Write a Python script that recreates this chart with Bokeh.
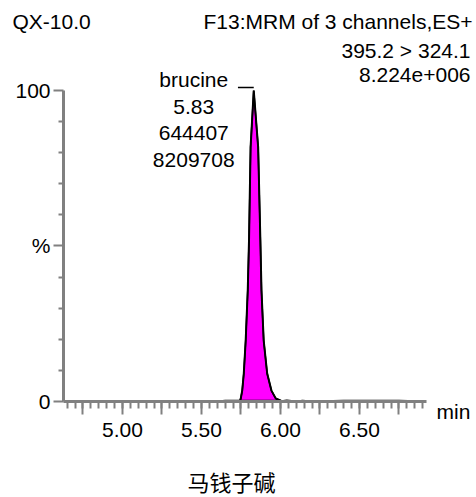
from bokeh.plotting import figure
from bokeh.models import Range1d, FixedTicker, Label, NumeralTickFormatter
from bokeh.embed import file_html
from bokeh.resources import INLINE

# ---- data ----
time_min = [4.65, 4.80, 5.00, 5.20, 5.40, 5.60, 5.65, 5.70, 5.745,
            5.749, 5.758, 5.768, 5.780, 5.793, 5.801, 5.811, 5.831,
            5.859, 5.873, 5.880, 5.894, 5.916, 5.943, 5.970, 6.006,
            6.04, 6.10, 6.14, 6.20, 6.40, 6.60, 6.75, 6.92]
intensity_pct = [0.1, 0.1, 0.1, 0.1, 0.1, 0.1, 0.3, 0.3, 0.3,
                 1.0, 3.5, 9.0, 19.6, 35.7, 51.8, 81.7, 100.0,
                 81.7, 51.8, 35.7, 19.6, 9.0, 3.5, 1.0, 0.2,
                 0.4, 0.1, 0.3, 0.1, 0.3, 0.3, 0.3, 0.1]
peak_start, peak_end = 8, 24   # indices of the integrated peak
peak_name = "brucine"
peak_rt = "5.83"
peak_height = "644407"
peak_area = "8209708"
peak_time = 5.831
sample = "QX-10.0"
function_txt = "F13:MRM of 3 channels,ES+"
transition = "395.2 > 324.1"
max_intensity = "8.224e+006"
compound_cn = "马钱子碱"
x_unit = "min"

x_axis_span = (4.627, 6.924)
y_axis_span = (0, 100)
x_major = [4.75, 5.00, 5.25, 5.50, 5.75, 6.00, 6.25, 6.50, 6.75]
x_labels = {4.75: "", 5.25: "", 5.75: "", 6.25: "", 6.75: ""}
x_minor = [round(4.65 + 0.05 * i, 2) for i in range(46)]
y_major = [0, 50, 100]
y_labels = {0: "0", 50: "%", 100: "100"}
y_minor = [10, 20, 30, 40, 60, 70, 80, 90]

# ---- layout ----
W, H = 476, 497
FONT = "Liberation Sans"
FS = "21px"
GRAY = "#808080"
X_START, X_END = 4.228, 7.241
Y_START, Y_END = -30.87, 128.94


def dx(px):
    return X_START + px * (X_END - X_START) / W


def dy(py):
    return Y_END - py * (Y_END - Y_START) / H


p = figure(width=W, height=H, output_backend="svg", toolbar_location=None,
           x_range=Range1d(X_START, X_END), y_range=Range1d(Y_START, Y_END),
           min_border=0, min_border_left=0, min_border_right=0,
           min_border_top=0, min_border_bottom=0)
p.outline_line_color = None
p.xgrid.visible = False
p.ygrid.visible = False

for ax in (p.xaxis[0], p.yaxis[0]):
    ax.axis_line_color = GRAY
    ax.axis_line_width = 3
    ax.major_tick_line_color = GRAY
    ax.minor_tick_line_color = GRAY
    ax.major_tick_line_width = 2
    ax.minor_tick_line_width = 2
    ax.major_tick_in = 0
    ax.minor_tick_in = 0
    ax.major_label_text_font = FONT
    ax.major_label_text_font_size = FS
    ax.major_label_text_color = "black"

p.xaxis.fixed_location = y_axis_span[0]
p.xaxis.bounds = x_axis_span
p.xaxis.ticker = FixedTicker(ticks=x_major, minor_ticks=x_minor)
p.xaxis.formatter = NumeralTickFormatter(format="0.00")
p.xaxis.major_label_overrides = x_labels
p.xaxis.major_tick_out = 13
p.xaxis.minor_tick_out = 7
p.xaxis.major_label_standoff = 9

p.yaxis.fixed_location = x_axis_span[0]
p.yaxis.bounds = y_axis_span
p.yaxis.ticker = FixedTicker(ticks=y_major, minor_ticks=y_minor)
p.yaxis.major_label_overrides = y_labels
p.yaxis.major_tick_out = 10
p.yaxis.minor_tick_out = 5
p.yaxis.major_label_standoff = 3

# peak fill + trace
px_ = time_min[peak_start:peak_end + 1]
py_ = intensity_pct[peak_start:peak_end + 1]
p.patch(px_, py_, fill_color="#FF00FF", line_color="black", line_width=2)
p.line(time_min, intensity_pct, line_color="black", line_width=1.5)
p.segment(x0=[peak_time - 0.1], y0=[101], x1=[peak_time], y1=[101],
          line_color="black", line_width=1.5)


def lab(text, x, y, align, xo=0, yo=0, size=FS, font=FONT):
    p.add_layout(Label(x=x, y=y, x_offset=xo, y_offset=yo, text=text,
                       text_align=align, text_baseline="middle",
                       text_font=font, text_font_size=size, text_color="black"))


# peak annotation (relative to the apex)
lab(peak_name, peak_time, 100, "center", -60, 11)
lab(peak_rt, peak_time, 100, "center", -60, -16)
lab(peak_height, peak_time, 100, "center", -60, -42)
lab(peak_area, peak_time, 100, "center", -60, -69)

# header texts
lab(sample, dx(12), dy(21), "left")
lab(function_txt, dx(472), dy(21), "right")
lab(transition, dx(470), dy(50), "right")
lab(max_intensity, dx(470), dy(74), "right")

# axis unit and compound name
lab(x_unit, dx(436), dy(411), "left")
lab(compound_cn, dx(231), dy(480), "center", size="22px", font="Noto Sans CJK SC")

open("out.html", "w").write(file_html(p, INLINE))
